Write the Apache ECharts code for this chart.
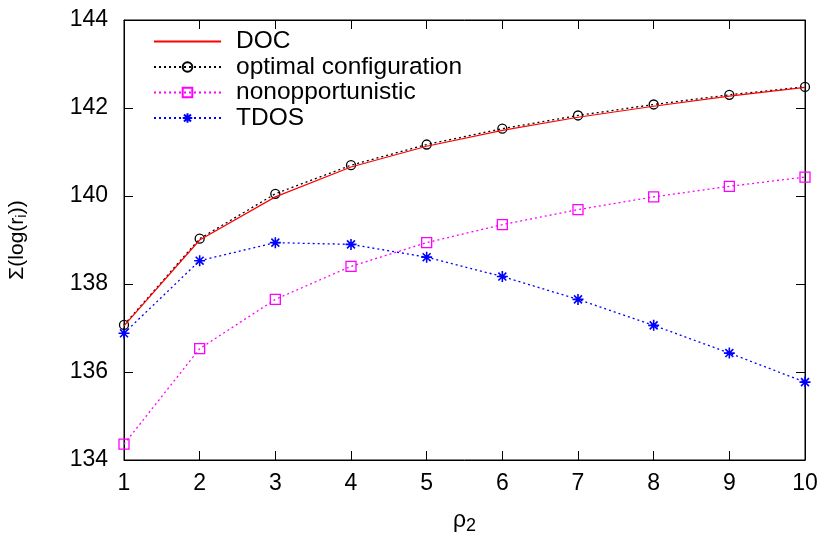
<!DOCTYPE html>
<html>
<head>
<meta charset="utf-8">
<title>Σ(log(r_i)) vs ρ2</title>
<script src="https://cdn.jsdelivr.net/npm/echarts@6/dist/echarts.min.js"></script>
<style>
  html, body { margin: 0; padding: 0; background: #fff; }
  #chart { width: 822px; height: 535px; }
</style>
</head>
<body>
<div id="chart"></div>
<script>
// rho_2 values on the horizontal axis
const rho = [1, 2, 3, 4, 5, 6, 7, 8, 9, 10];

// Sum of log rates for each scheme
const docValues     = [137.05, 139.00, 139.98, 140.66, 141.13, 141.49, 141.79, 142.04, 142.27, 142.47];
const optimalValues = [137.07, 139.03, 140.05, 140.70, 141.17, 141.53, 141.83, 142.08, 142.30, 142.48];
const nonoppValues  = [134.36, 136.53, 137.65, 138.40, 138.94, 139.35, 139.69, 139.98, 140.22, 140.43];
const tdosValues    = [136.88, 138.53, 138.94, 138.90, 138.61, 138.17, 137.65, 137.06, 136.43, 135.77];

// Axis ticks
const xTicks = [1, 2, 3, 4, 5, 6, 7, 8, 9, 10];
const yTicks = [134, 136, 138, 140, 142, 144];

const pairs = vals => rho.map((r, i) => [r, vals[i]]);

const FONT = '"Liberation Sans", Arial, sans-serif';
const asterisk = 'path://M0,-1L0,1M-1,0L1,0M-0.72,-0.72L0.72,0.72M-0.72,0.72L0.72,-0.72';
const dots = [2, 3];

const chart = echarts.init(document.getElementById('chart'), null, { renderer: 'canvas' });

const axisCommon = {
  axisLine: { show: true, lineStyle: { color: '#000', width: 1 } },
  axisTick: { show: true, inside: true, length: 9, lineStyle: { color: '#000', width: 1 } },
  splitLine: { show: false }
};

chart.setOption({
  animation: false,
  backgroundColor: '#fff',
  grid: {
    left: 124, right: 17, top: 20, bottom: 75,
    outerBoundsMode: 'none', containLabel: false,
    show: true, borderColor: '#000', borderWidth: 1, backgroundColor: 'transparent'
  },
  legend: {
    orient: 'vertical',
    left: 148, top: 24,
    itemWidth: 67, itemHeight: 12, itemGap: 0.5,
    textStyle: {
      fontFamily: FONT, fontSize: 24.5, color: '#000',
      lineHeight: 24, padding: [0, 0, 0, 10]
    },
    data: [
      { name: 'DOC', itemStyle: { opacity: 0 } },
      'optimal configuration',
      'nonopportunistic',
      'TDOS'
    ]
  },
  xAxis: [
    Object.assign({}, axisCommon, {
      type: 'value', min: xTicks[0], max: xTicks[xTicks.length - 1], interval: 1,
      position: 'bottom',
      axisLabel: { fontFamily: FONT, fontSize: 23, color: '#000', margin: 12 },
      name: 'ρ{sub|2}',
      nameLocation: 'middle', nameGap: 47,
      nameTextStyle: {
        fontFamily: FONT, fontSize: 23, color: '#000',
        rich: { sub: { fontFamily: FONT, fontSize: 18, color: '#000', verticalAlign: 'bottom', padding: [10, 0, 0, 0] } }
      }
    }),
    Object.assign({}, axisCommon, {
      type: 'value', min: xTicks[0], max: xTicks[xTicks.length - 1], interval: 1,
      position: 'top', axisLabel: { show: false }
    })
  ],
  yAxis: [
    Object.assign({}, axisCommon, {
      type: 'value', min: yTicks[0], max: yTicks[yTicks.length - 1], interval: 2,
      position: 'left',
      axisLabel: { fontFamily: FONT, fontSize: 23, color: '#000', margin: 16 },
      name: 'Σ(log(r{sub|i}))',
      nameLocation: 'middle', nameGap: 95, nameRotate: 90,
      nameTextStyle: {
        fontFamily: FONT, fontSize: 21, color: '#000',
        rich: { sub: { fontFamily: FONT, fontSize: 15, color: '#000', padding: [9, 0, 0, 0] } }
      }
    }),
    Object.assign({}, axisCommon, {
      type: 'value', min: yTicks[0], max: yTicks[yTicks.length - 1], interval: 2,
      position: 'right', axisLabel: { show: false }
    })
  ],
  series: [
    {
      name: 'DOC', type: 'line', data: pairs(docValues),
      symbol: 'none', z: 5,
      lineStyle: { color: '#ff0000', width: 1.2, type: 'solid' },
      itemStyle: { color: '#ff0000' }
    },
    {
      name: 'optimal configuration', type: 'line', data: pairs(optimalValues),
      symbol: 'circle', symbolSize: 9, z: 4,
      lineStyle: { color: '#000', width: 1.3, type: dots },
      itemStyle: { color: 'transparent', borderColor: '#000', borderWidth: 1.3 }
    },
    {
      name: 'nonopportunistic', type: 'line', data: pairs(nonoppValues),
      symbol: 'rect', symbolSize: 10,
      lineStyle: { color: '#ff00ff', width: 1.3, type: dots },
      itemStyle: { color: 'transparent', borderColor: '#ff00ff', borderWidth: 1.3 }
    },
    {
      name: 'TDOS', type: 'line', data: pairs(tdosValues),
      symbol: asterisk, symbolSize: 11,
      lineStyle: { color: '#0000ff', width: 1.3, type: dots },
      itemStyle: { color: 'transparent', borderColor: '#0000ff', borderWidth: 1.6 }
    }
  ]
});
</script>
</body>
</html>
